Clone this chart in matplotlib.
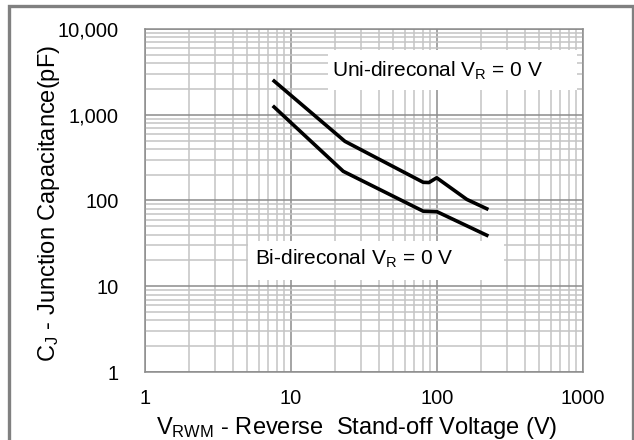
import matplotlib
matplotlib.use("Agg")
import matplotlib.pyplot as plt
from matplotlib.patches import Rectangle
from matplotlib.ticker import FixedLocator, FixedFormatter, LogLocator, NullFormatter

plt.rcParams['font.family'] = ['Liberation Sans', 'DejaVu Sans']
plt.rcParams['mathtext.fontset'] = 'custom'
plt.rcParams['mathtext.rm'] = 'Liberation Sans'
plt.rcParams['mathtext.it'] = 'Liberation Sans'

# Data
uni_v = [7.5, 23.4, 80.5, 88, 99.5, 129, 160, 225]
uni_c = [2550, 490, 163, 162, 184, 134, 103, 78.5]
bi_v = [7.5, 22.8, 80.5, 100, 225]
bi_c = [1273, 219, 75, 74, 38.5]

x_ticks = [1, 10, 100, 1000]
x_labels = ['1', '10', '100', '1000']
y_ticks = [1, 10, 100, 1000, 10000]
y_labels = ['1', '10', '100', '1,000', '10,000']

uni_label = r'Uni-direconal V$_\mathrm{R}$ = 0 V'
bi_label = r'Bi-direconal V$_\mathrm{R}$ = 0 V'
xlabel = r'V$_\mathrm{RWM}$ - Reverse  Stand-off Voltage (V)'
ylabel = r'C$_\mathrm{J}$ - Junction Capacitance(pF)'

W, H = 634, 440
fig = plt.figure(figsize=(W / 100, H / 100), dpi=100)
fig.patch.set_facecolor('white')

# outer gray frame
fig.patches.append(Rectangle((8.5 / W, -0.1), (632.5 - 8.5) / W, 1.1 - 6.5 / H,
                             transform=fig.transFigure, fill=False,
                             edgecolor='#808080', linewidth=2.4, zorder=0))

left, right, top, bottom = 145, 583, 29, 372
ax = fig.add_axes([left / W, 1 - bottom / H, (right - left) / W, (bottom - top) / H])
ax.set_xscale('log')
ax.set_yscale('log')
ax.set_xlim(1, 1000)
ax.set_ylim(1, 10000)

ax.xaxis.set_major_locator(FixedLocator(x_ticks))
ax.xaxis.set_major_formatter(FixedFormatter(x_labels))
ax.yaxis.set_major_locator(FixedLocator(y_ticks))
ax.yaxis.set_major_formatter(FixedFormatter(y_labels))
ax.xaxis.set_minor_locator(LogLocator(base=10, subs=range(2, 10), numticks=20))
ax.yaxis.set_minor_locator(LogLocator(base=10, subs=range(2, 10), numticks=20))
ax.xaxis.set_minor_formatter(NullFormatter())
ax.yaxis.set_minor_formatter(NullFormatter())

ax.grid(True, which='minor', color='#c4c4c4', linewidth=1.1)
ax.grid(True, which='major', color='#8c8c8c', linewidth=1.1)
ax.set_axisbelow(True)
ax.tick_params(which='both', length=0)
ax.tick_params(axis='x', pad=12, labelsize=14.4)
ax.tick_params(axis='y', pad=19, labelsize=14.4)
for s in ax.spines.values():
    s.set_color('#8c8c8c')
    s.set_linewidth(1.1)

ax.plot(uni_v, uni_c, color='black', linewidth=2.6, solid_capstyle='butt', zorder=3)
ax.plot(bi_v, bi_c, color='black', linewidth=2.6, solid_capstyle='butt', zorder=3)

# label boxes
ax.add_patch(Rectangle((0.418, 0.822), 0.568, 0.117, transform=ax.transAxes,
                       facecolor='white', edgecolor='none', zorder=2))
ax.text(0.427, 0.878, uni_label, transform=ax.transAxes, fontsize=15,
        va='center', ha='left', zorder=4)
ax.add_patch(Rectangle((0.235, 0.268), 0.585, 0.115, transform=ax.transAxes,
                       facecolor='white', edgecolor='none', zorder=2))
ax.text(0.251, 0.329, bi_label, transform=ax.transAxes, fontsize=15,
        va='center', ha='left', zorder=4)

fig.text(357 / W, 1 - 434 / H, xlabel, fontsize=17, ha='center', va='baseline')
fig.text(49 / W, 1 - 203 / H, ylabel, fontsize=17, ha='center', va='center', rotation=90)

fig.savefig('out.png', dpi=100)
